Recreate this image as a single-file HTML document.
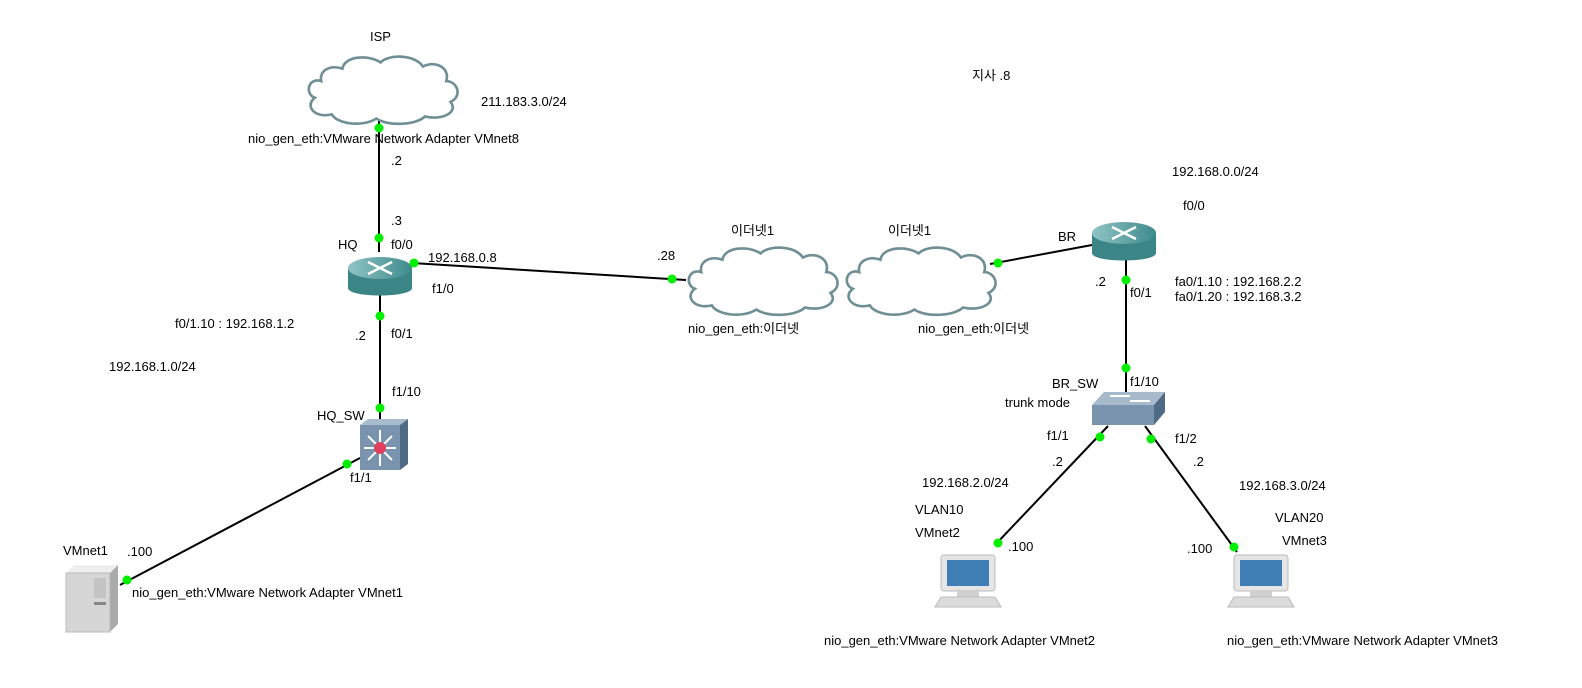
<!DOCTYPE html>
<html><head><meta charset="utf-8"><style>
html,body{margin:0;padding:0;background:#fff;width:1582px;height:688px;overflow:hidden}
svg text{font-family:"Liberation Sans","Noto Sans CJK KR",sans-serif;font-size:13px;fill:#000}
</style></head><body>
<svg width="1582" height="688" viewBox="0 0 1582 688" xmlns="http://www.w3.org/2000/svg">
<defs>
<g id="cloud">
<g transform="scale(1.06,1.04)">
<path d="M20,28 C8,24 4,40 14,44 C4,52 14,64 30,60 C36,70 60,72 72,64 C84,72 110,70 118,62 C134,66 150,58 142,48 C154,42 148,28 138,28 C142,14 126,8 116,14 C108,2 84,2 76,10 C64,2 42,4 40,16 C28,12 18,18 20,28 Z" fill="#fff" stroke="#6f8f94" stroke-width="2.5"/>
</g>
</g>
<linearGradient id="rtop" x1="0" y1="0" x2="1" y2="0"><stop offset="0" stop-color="#8fc4c4"/><stop offset="1" stop-color="#3f8a8c"/></linearGradient>
<g id="router">
<path d="M0,12 L0,32 C0,42 64,42 64,32 L64,12 Z" fill="#3c8587"/>
<ellipse cx="32" cy="12" rx="32" ry="11" fill="url(#rtop)"/>
<g stroke="#fff" stroke-width="2.5" fill="none"><path d="M20,6 L44,18 M44,6 L20,18"/></g>
</g>
<g id="pc">
<rect x="6" y="0" width="54" height="36" rx="3" fill="#e6e6e6" stroke="#bbb"/>
<rect x="12" y="5" width="42" height="26" fill="#3f7fb5"/>
<rect x="22" y="36" width="22" height="6" fill="#d0d0d0"/>
<path d="M0,52 L6,42 L60,42 L66,52 Z" fill="#dcdcdc" stroke="#bbb"/>
</g>
</defs>

<g stroke="#000" stroke-width="2" fill="none">
<line x1="379" y1="120" x2="379" y2="252"/>
<line x1="380" y1="295" x2="380" y2="426"/>
<line x1="412" y1="263" x2="686" y2="280"/>
<line x1="990" y1="264" x2="1092" y2="245"/>
<line x1="1126" y1="260" x2="1126" y2="392"/>
<line x1="1108" y1="426" x2="995" y2="545"/>
<line x1="1145" y1="426" x2="1237" y2="552"/>
<line x1="360" y1="458" x2="120" y2="585"/>
</g>

<use href="#cloud" x="300" y="52"/>
<use href="#cloud" x="680" y="243"/>
<use href="#cloud" x="838" y="243"/>

<use href="#router" x="348" y="256"/>
<use href="#router" x="1092" y="221"/>

<g>
<path d="M360,425 L400,425 L408,419 L368,419 Z" fill="#a9bccd"/>
<path d="M400,425 L408,419 L408,464 L400,470 Z" fill="#4f6a85"/>
<rect x="360" y="425" width="40" height="45" fill="#7a94b0"/>
<g stroke="#fff" stroke-width="2"><line x1="364" y1="448" x2="396" y2="448"/><line x1="380" y1="430" x2="380" y2="466"/><line x1="368" y1="436" x2="392" y2="460"/><line x1="392" y1="436" x2="368" y2="460"/></g>
<circle cx="380" cy="448" r="6" fill="#e0405a"/>
</g>
<g>
<path d="M1092,405 L1104,392 L1165,392 L1154,405 Z" fill="#a6bacb"/>
<path d="M1154,405 L1165,392 L1165,412 L1154,425 Z" fill="#4f6a85"/>
<rect x="1092" y="405" width="62" height="20" fill="#7a94b0"/>
<g stroke="#fff" stroke-width="2"><line x1="1110" y1="396" x2="1130" y2="396"/><line x1="1130" y1="401" x2="1150" y2="401"/></g>
</g>
<g>
<path d="M66,573 L74,565 L118,565 L110,573 Z" fill="#eee"/>
<path d="M110,573 L118,565 L118,624 L110,632 Z" fill="#aaa"/>
<rect x="66" y="573" width="44" height="59" fill="#d6d6d6" stroke="#bbb"/>
<rect x="94" y="578" width="12" height="20" fill="#c4c4c4"/>
<rect x="94" y="602" width="12" height="3" fill="#888"/>
</g>
<use href="#pc" x="935" y="555"/>
<use href="#pc" x="1228" y="555"/>

<g fill="#00ee00">
<circle cx="379" cy="128" r="4.5"/><circle cx="379" cy="238" r="4.5"/>
<circle cx="380" cy="316" r="4.5"/><circle cx="380" cy="408" r="4.5"/>
<circle cx="414" cy="263" r="4.5"/><circle cx="672" cy="279" r="4.5"/>
<circle cx="998" cy="263" r="4.5"/><circle cx="1126" cy="280" r="4.5"/>
<circle cx="1126" cy="368" r="4.5"/><circle cx="1100" cy="437" r="4.5"/>
<circle cx="1151" cy="439" r="4.5"/><circle cx="347" cy="464" r="4.5"/>
<circle cx="127" cy="580" r="4.5"/><circle cx="998" cy="543" r="4.5"/>
<circle cx="1234" cy="547" r="4.5"/>
</g>

<text x="370" y="41">ISP</text>
<text x="481" y="106">211.183.3.0/24</text>
<text x="248" y="143">nio_gen_eth:VMware Network Adapter VMnet8</text>
<text x="391" y="165">.2</text>
<text x="391" y="225">.3</text>
<text x="338" y="249">HQ</text>
<text x="391" y="249">f0/0</text>
<text x="428" y="262">192.168.0.8</text>
<text x="432" y="293">f1/0</text>
<text x="175" y="328">f0/1.10 : 192.168.1.2</text>
<text x="355" y="340">.2</text>
<text x="391" y="338">f0/1</text>
<text x="109" y="371">192.168.1.0/24</text>
<text x="392" y="396">f1/10</text>
<text x="317" y="420">HQ_SW</text>
<text x="350" y="482">f1/1</text>
<text x="63" y="555">VMnet1</text>
<text x="127" y="556">.100</text>
<text x="132" y="597">nio_gen_eth:VMware Network Adapter VMnet1</text>
<text x="657" y="260">.28</text>
<text x="731" y="235">이더넷1</text>
<text x="888" y="235">이더넷1</text>
<text x="688" y="333">nio_gen_eth:이더넷</text>
<text x="918" y="333">nio_gen_eth:이더넷</text>
<text x="972" y="80">지사 .8</text>
<text x="1172" y="176">192.168.0.0/24</text>
<text x="1183" y="210">f0/0</text>
<text x="1058" y="241">BR</text>
<text x="1095" y="286">.2</text>
<text x="1130" y="297">f0/1</text>
<text x="1175" y="286">fa0/1.10 : 192.168.2.2</text>
<text x="1175" y="301">fa0/1.20 : 192.168.3.2</text>
<text x="1052" y="388">BR_SW</text>
<text x="1130" y="386">f1/10</text>
<text x="1005" y="407">trunk mode</text>
<text x="1047" y="440">f1/1</text>
<text x="1175" y="443">f1/2</text>
<text x="1052" y="466">.2</text>
<text x="1193" y="466">.2</text>
<text x="922" y="487">192.168.2.0/24</text>
<text x="1239" y="490">192.168.3.0/24</text>
<text x="915" y="514">VLAN10</text>
<text x="1275" y="522">VLAN20</text>
<text x="915" y="537">VMnet2</text>
<text x="1282" y="545">VMnet3</text>
<text x="1008" y="551">.100</text>
<text x="1187" y="553">.100</text>
<text x="824" y="645">nio_gen_eth:VMware Network Adapter VMnet2</text>
<text x="1227" y="645">nio_gen_eth:VMware Network Adapter VMnet3</text>
</svg>
</body></html>
